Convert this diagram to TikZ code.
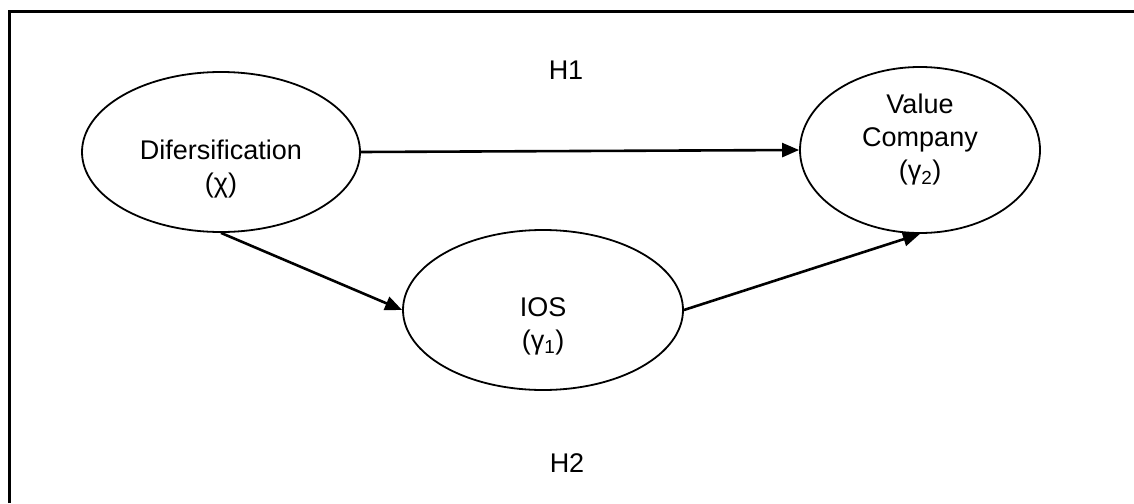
\documentclass[tikz,border=0pt]{standalone}
\usepackage{fontspec}
\setmainfont{Liberation Sans}
\usetikzlibrary{shapes.geometric,arrows.meta}
\tikzset{
  oval/.style={draw=black, line width=1.8pt, ellipse, inner sep=0pt},
  lbl/.style={align=center, inner sep=0pt, font=\fontsize{27}{33}\selectfont},
  link/.style={draw=black, line width=2.6pt, -{Triangle[length=17pt,width=14pt]}},
  frameline/.style={draw=black, line width=3pt}
}
\begin{document}
\begin{tikzpicture}[x=1pt,y=-1pt]
\useasboundingbox (0,0) rectangle (1134,503);
% frame (left and top edges visible)
\coordinate (fbl) at (9.5,503);
\coordinate (ftl) at (9.5,11.3);
\coordinate (ftr) at (1134,11.3);
\draw[frameline] (fbl) -- (ftl) -- (ftr);
% ellipses
\node[oval, minimum width=278pt, minimum height=160pt] (div) at (221,152) {};
\node[oval, minimum width=280pt, minimum height=160pt] (ios) at (543,310) {};
\node[oval, minimum width=240pt, minimum height=166pt] (vc) at (920,150) {};
% texts
\node[lbl] (tdiv) at (221,169) {Difersification\\(χ)};
\node[lbl] (tios) at (543,326) {IOS\\(γ\textsubscript{1})};
\node[lbl] (tvc) at (920,140) {Value\\Company\\(γ\textsubscript{2})};
\node[lbl] (h1) at (566,70) {H1};
\node[lbl] (h2) at (567,463) {H2};
% connectors
\draw[link] (div.east) -- (vc.west);
\draw[link] (div.south) -- (ios.west);
\draw[link] (ios.east) -- (vc.south);
\end{tikzpicture}
\end{document}
